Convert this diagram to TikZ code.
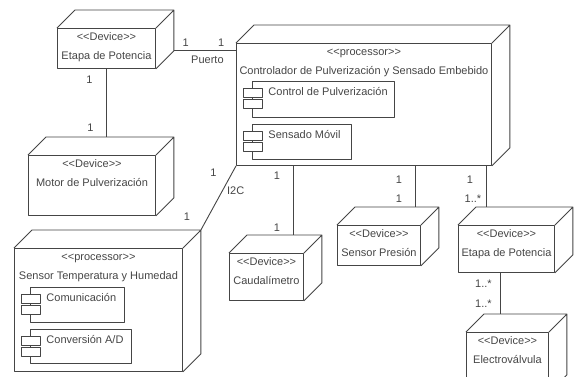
\documentclass[tikz,border=0pt]{standalone}
\usepackage{fontspec}
\setmainfont{Liberation Sans}
\usetikzlibrary{positioning}
\definecolor{dline}{HTML}{454545}
\tikzset{
  cube/.style={draw, inner sep=0pt, anchor=north west},
  comp/.style={draw, inner sep=0pt, anchor=north west},
  txt/.style={inner sep=0pt, anchor=base},
  lbl/.style={inner sep=0pt},
}
\begin{document}
\begin{tikzpicture}[x=1pt, y=-1pt, font=\fontsize{11}{13}\selectfont, color=dline, line width=.9pt, line join=round]
		\useasboundingbox (0,0) rectangle (576,376);
		% nodes (front faces)
		\node[cube, minimum width=98pt, minimum height=40pt] (etapaA) at (57,28) {};
		\node[cube, minimum width=127pt, minimum height=60pt] (motor) at (28,155) {};
		\node[cube, minimum width=255pt, minimum height=122pt] (ctrl) at (236,43) {};
		\node[cube, minimum width=168pt, minimum height=123pt] (sth) at (14,248) {};
		\node[cube, minimum width=74pt, minimum height=47pt] (caudal) at (229,253) {};
		\node[cube, minimum width=83pt, minimum height=40pt] (presion) at (337,225) {};
		\node[cube, minimum width=96pt, minimum height=47pt] (etapaB) at (458,225) {};
		\node[cube, minimum width=82pt, minimum height=60pt] (electro) at (466,332) {};
		\foreach \n in {etapaA,motor,ctrl,sth,caudal,presion,etapaB,electro}{
			\draw (\n.north west) -- ++(18pt,18pt) -| ([shift={(18pt,18pt)}]\n.south east) -- (\n.south east) (\n.north east) -- ++(18pt,18pt);
			\coordinate (\n-top) at ([yshift=18pt]\n.north);
		}
		% texts
		\foreach \n/\t in {etapaA/Etapa de Potencia, motor/Motor de Pulverización, caudal/Caudalímetro, presion/Sensor Presión, etapaB/Etapa de Potencia, electro/Electroválvula}{
			\node[txt] (\n-st) at ([yshift=-12.5pt]\n.north) {<\kern0pt<Device>\kern0pt>};
			\node[txt] (\n-name) at ([yshift=-31pt]\n.north) {\t};
		}
		\node[txt] (ctrl-st) at ([yshift=-12.5pt]ctrl.north) {<\kern0pt<processor>\kern0pt>};
		\node[txt] (ctrl-name) at ([yshift=-31pt]ctrl.north) {Controlador de Pulverización y Sensado Embebido};
		\node[txt] (sth-st) at ([yshift=-12.5pt]sth.north) {<\kern0pt<processor>\kern0pt>};
		\node[txt] (sth-name) at ([yshift=-31pt]sth.north) {Sensor Temperatura y Humedad};
		% components
		\node[comp, minimum width=142pt, minimum height=36pt] (cpul) at (252,81) {};
		\node[comp, minimum width=99pt, minimum height=35pt] (smov) at (252,124) {};
		\node[comp, minimum width=94pt, minimum height=35pt] (comu) at (30,287) {};
		\node[comp, minimum width=101pt, minimum height=34pt] (conv) at (30,329) {};
		\foreach \n/\t in {cpul/Control de Pulverización, smov/Sensado Móvil, comu/Comunicación, conv/{Conversión A/D}}{
			\draw[fill=white] ([shift={(-9pt,-7pt)}]\n.north west) rectangle ++(19pt,-9pt) ([shift={(-9pt,-18pt)}]\n.north west) rectangle ++(19pt,-9pt);
			\node[txt, anchor=base west] (\n-t) at ([shift={(16pt,-14pt)}]\n.north west) {\t};
		}
		% connectors
		\coordinate (pA) at ([shift={(18pt,18pt)}]etapaA.south east);
		\draw (pA) -- (pA -| ctrl.west) node[lbl, pos=.19, yshift=8pt] (pA-l1) {1} node[lbl, pos=.76, yshift=8pt] (pA-l2) {1} node[lbl, pos=.54, yshift=-9pt] (pA-l3) {Puerto};
		\draw (etapaA.south) -- (etapaA.south |- motor-top) node[lbl, pos=.16, xshift=-17pt] (m-l1) {1} node[lbl, pos=.87, xshift=-16pt] (m-l2) {1};
		\draw (ctrl.south west) -- ([shift={(18pt,18pt)}]sth.north east) node[lbl, pos=.1, xshift=-19pt] (i-l1) {1} node[lbl, pos=.38, xshift=13pt] (i-l2) {I2C} node[lbl, pos=.8, xshift=-21pt] (i-l3) {1};
		\coordinate (c1) at ([xshift=57pt]ctrl.south west);
		\coordinate (c2) at ([xshift=179pt]ctrl.south west);
		\coordinate (c3) at ([xshift=-5pt]ctrl.south east);
		\coordinate (c4) at ([xshift=-6pt]etapaB.south);
		\draw (c1) -- (c1 |- caudal-top) node[lbl, pos=.14, xshift=-16pt] (c1-l1) {1} node[lbl, pos=.89, xshift=-16pt] (c1-l2) {1};
		\draw (c2) -- (c2 |- presion-top) node[lbl, pos=.33, xshift=-16pt] (c2-l1) {1} node[lbl, pos=.79, xshift=-16pt] (c2-l2) {1};
		\draw (c3) -- (c3 |- etapaB-top) node[lbl, pos=.33, xshift=-17pt] (c3-l1) {1} node[lbl, pos=.81, xshift=-14pt] (c3-l2) {1..*};
		\draw (c4) -- (c4 |- electro-top) node[lbl, pos=.26, xshift=-17pt] (c4-l1) {1..*} node[lbl, pos=.74, xshift=-17pt] (c4-l2) {1..*};
\end{tikzpicture}
\end{document}
